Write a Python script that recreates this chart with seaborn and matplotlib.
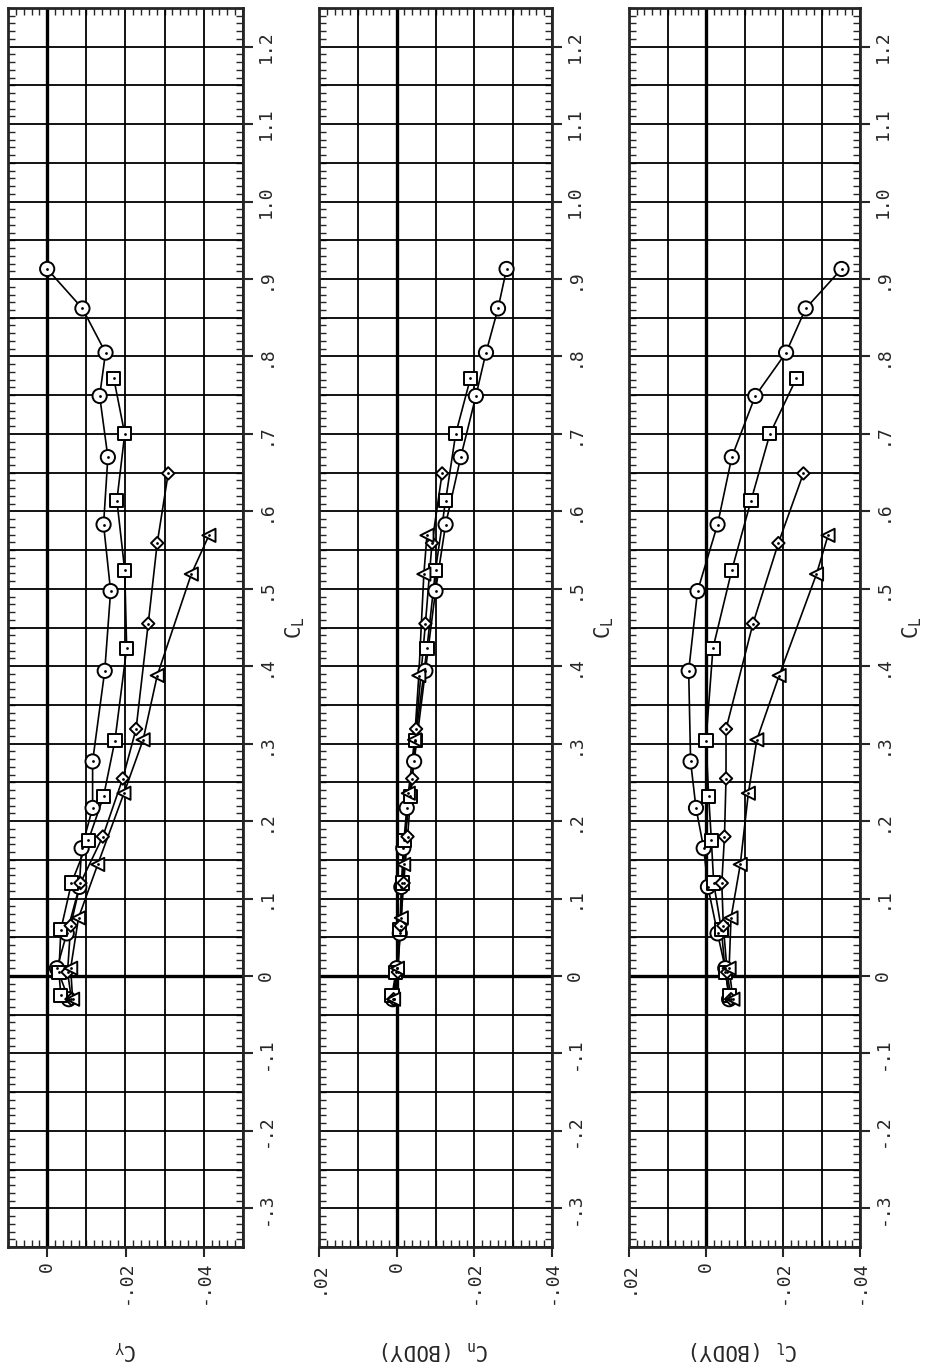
import numpy as np
import pandas as pd
import matplotlib
matplotlib.use('Agg')
import matplotlib.pyplot as plt
from matplotlib.ticker import MultipleLocator, FixedLocator
import seaborn as sns

# lift coefficient of every run point (the same points appear in all three panels)
cl_circle = [-0.030, 0.010, 0.055, 0.115, 0.165, 0.217, 0.277, 0.394, 0.497, 0.583, 0.670, 0.749, 0.805, 0.862, 0.913]
cl_square = [-0.025, 0.005, 0.060, 0.120, 0.175, 0.232, 0.304, 0.423, 0.524, 0.614, 0.700, 0.772]
cl_diamond = [-0.030, 0.005, 0.065, 0.120, 0.180, 0.255, 0.319, 0.455, 0.559, 0.649]
cl_triangle = [-0.030, 0.010, 0.075, 0.144, 0.236, 0.305, 0.388, 0.519, 0.569]

# side force coefficient
cy_circle = [-0.0055, -0.0025, -0.0050, -0.0082, -0.0088, -0.0116, -0.0116, -0.0147, -0.0162, -0.0144, -0.0155, -0.0134, -0.0149, -0.0090, 0.0000]
cy_square = [-0.0035, -0.0030, -0.0035, -0.0062, -0.0105, -0.0144, -0.0173, -0.0203, -0.0198, -0.0178, -0.0198, -0.0170]
cy_diamond = [-0.0062, -0.0052, -0.0060, -0.0085, -0.0142, -0.0193, -0.0227, -0.0258, -0.0281, -0.0309]
cy_triangle = [-0.0065, -0.0060, -0.0080, -0.0129, -0.0196, -0.0245, -0.0281, -0.0368, -0.0413]

# yawing moment (body axes)
cn_circle = [0.0010, 0.0000, -0.0008, -0.0012, -0.0017, -0.0026, -0.0045, -0.0074, -0.0100, -0.0126, -0.0165, -0.0204, -0.0230, -0.0261, -0.0283]
cn_square = [0.0012, 0.0002, -0.0008, -0.0015, -0.0020, -0.0035, -0.0048, -0.0078, -0.0100, -0.0126, -0.0152, -0.0190]
cn_diamond = [0.0008, -0.0003, -0.0010, -0.0018, -0.0028, -0.0040, -0.0050, -0.0074, -0.0091, -0.0117]
cn_triangle = [0.0008, -0.0002, -0.0012, -0.0018, -0.0030, -0.0046, -0.0057, -0.0070, -0.0078]

# rolling moment (body axes)
croll_circle = [-0.0060, -0.0050, -0.0030, -0.0005, 0.0006, 0.0026, 0.0040, 0.0045, 0.0022, -0.0030, -0.0067, -0.0128, -0.0208, -0.0259, -0.0352]
croll_square = [-0.0060, -0.0050, -0.0040, -0.0020, -0.0014, -0.0007, 0.0000, -0.0018, -0.0067, -0.0117, -0.0166, -0.0235]
croll_diamond = [-0.0065, -0.0055, -0.0045, -0.0041, -0.0048, -0.0052, -0.0052, -0.0122, -0.0188, -0.0253]
croll_triangle = [-0.0070, -0.0060, -0.0065, -0.0089, -0.0110, -0.0132, -0.0190, -0.0287, -0.0317]

series_names = ['circle', 'square', 'diamond', 'triangle']
panel_names = ['$\\mathregular{C_Y}$', '$\\mathregular{C_n}$ (BODY)', '$\\mathregular{C_l}$ (BODY)']

cl_ticks = [-0.3, -0.2, -0.1, 0, 0.1, 0.2, 0.3, 0.4, 0.5, 0.6, 0.7, 0.8, 0.9, 1.0, 1.1, 1.2]
cl_tick_labels = ['-.3', '-.2', '-.1', '0', '.1', '.2', '.3', '.4', '.5', '.6', '.7', '.8', '.9', '1.0', '1.1', '1.2']
coef_ticks = [[0, -0.02, -0.04], [0.02, 0, -0.02, -0.04], [0.02, 0, -0.02, -0.04]]
coef_tick_labels = [['0', '-.02', '-.04'], ['.02', '0', '-.02', '-.04'], ['.02', '0', '-.02', '-.04']]
coef_limits = [(0.01, -0.05), (0.02, -0.04), (0.02, -0.04)]


def build_table():
    cls = [cl_circle, cl_square, cl_diamond, cl_triangle]
    coefs = [
        [cy_circle, cy_square, cy_diamond, cy_triangle],
        [cn_circle, cn_square, cn_diamond, cn_triangle],
        [croll_circle, croll_square, croll_diamond, croll_triangle],
    ]
    rows = []
    for p in range(3):
        for name, cl, coef in zip(series_names, cls, coefs[p]):
            for a, b in zip(cl, coef):
                rows.append({'panel': p, 'series': name, 'CL': a, 'coef': b})
    return pd.DataFrame(rows)


df = build_table()

sns.set_style('ticks')
plt.rcParams['font.family'] = ['DejaVu Sans Mono', 'DejaVu Sans']
plt.rcParams['mathtext.fontset'] = 'dejavusans'

fig = plt.figure(figsize=(9.27, 13.71), dpi=100)
W, H = 927, 1371
boxes = [(8, 235), (319, 233), (629, 231)]
top_px, bot_px = 8, 1247

marker_map = {'circle': 'o', 'square': 's', 'diamond': 'D', 'triangle': '<'}
size_map = {'circle': 105, 'square': 90, 'diamond': 40, 'triangle': 90}

for p in range(3):
    left, width = boxes[p]
    ax = fig.add_axes([left / W, (H - bot_px) / H, width / W, (bot_px - top_px) / H])
    lo, hi = coef_limits[p]
    ax.set_xlim(lo, hi)
    ax.set_ylim(-0.35, 1.25)

    # plotting grid
    for v in np.arange(hi, lo + 0.001, 0.01):
        lw = 2.4 if abs(v) < 1e-9 else 1.3
        ax.axvline(v, color='black', lw=lw, zorder=1)
    for v in np.arange(-0.35, 1.26, 0.05):
        lw = 2.4 if abs(v) < 1e-9 else 1.3
        ax.axhline(v, color='black', lw=lw, zorder=1)

    sub = df[df['panel'] == p]
    sns.lineplot(data=sub, x='coef', y='CL', units='series', estimator=None,
                 orient='y', sort=True, color='black', lw=1.2, ax=ax, legend=False)
    sns.scatterplot(data=sub, x='coef', y='CL', style='series', size='series',
                    markers=marker_map, sizes=size_map, color='white',
                    edgecolor='black', linewidth=1.4, legend=False, ax=ax, zorder=3)
    sns.scatterplot(data=sub, x='coef', y='CL', color='black', s=4, marker='o',
                    linewidth=0, legend=False, ax=ax, zorder=4)

    for s in ax.spines.values():
        s.set_linewidth(2)

    ax.xaxis.set_major_locator(FixedLocator(coef_ticks[p]))
    ax.set_xticklabels(coef_tick_labels[p], rotation=90)
    ax.xaxis.set_minor_locator(MultipleLocator(0.002))
    ax.yaxis.tick_right()
    ax.yaxis.set_major_locator(FixedLocator(cl_ticks))
    ax.set_yticklabels(cl_tick_labels, rotation=90, va='center')
    ax.yaxis.set_minor_locator(MultipleLocator(0.01))
    ax.tick_params(which='major', direction='out', length=7, width=1.5,
                   bottom=True, top=False, left=False, right=True,
                   labelsize=13, pad=3)
    ax.tick_params(which='minor', direction='in', length=5, width=1,
                   bottom=True, top=True, left=True, right=True)

    ax.set_xlabel(panel_names[p], rotation=180, fontsize=15, va='center', ha='center')
    ax.xaxis.set_label_coords(0.5, -0.083)
    ax.yaxis.set_label_position('right')
    ax.set_ylabel('$\\mathregular{C_L}$', rotation=90, fontsize=15, va='center', ha='center')
    ax.yaxis.set_label_coords(1 + 52 / width, 0.5)

fig.savefig('out.png', dpi=100)
